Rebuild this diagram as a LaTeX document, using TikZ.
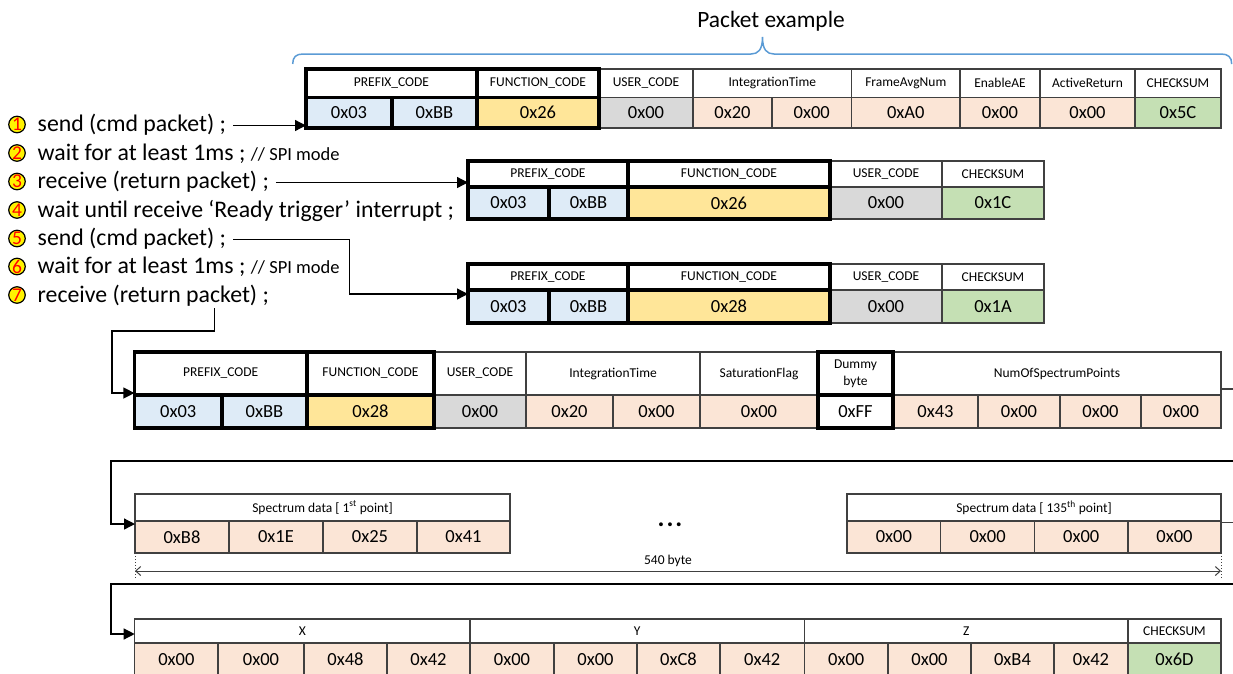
\documentclass[tikz,border=0pt]{standalone}
\usepackage{fontspec}
\setmainfont{Carlito}
\usetikzlibrary{arrows.meta,calc}
\definecolor{cblue}{HTML}{DEEBF7}
\definecolor{cyel}{HTML}{FFE699}
\definecolor{cgray}{HTML}{D9D9D9}
\definecolor{cpeach}{HTML}{FBE5D6}
\definecolor{cgreen}{HTML}{C5E0B4}
\definecolor{cline}{HTML}{404040}
\definecolor{cbrace}{HTML}{5B9BD5}
\newcommand\pcell[7]{\node[#6, minimum width={(#4-#2)*1pt}, minimum height={(#5-#3)*1pt}] (#1) at ({(#2+#4)/2},{(#3+#5)/2}) {#7};}
\begin{document}
\begin{tikzpicture}[x=1pt,y=-1pt,
 every node/.style={inner sep=0pt,outer sep=0pt},
 hdr/.style={draw=cline,line width=1.2pt,fill=white,font=\fontsize{13.5}{16}\selectfont},
 hdrs/.style={draw=cline,line width=1.2pt,fill=white,font=\fontsize{13.5}{16}\selectfont},
 val/.style={draw=cline,line width=1.2pt,font=\fontsize{18.5}{20}\selectfont},
 thk/.style={draw=black,line width=3.3pt},
 stepc/.style={circle,draw=black,line width=1.2pt,fill=yellow,minimum size=16.5pt},
 stepn/.style={text=red,font=\fontsize{19.5}{19.5}\selectfont},
 steptxt/.style={anchor=base west,font=\fontsize{23.8}{27}\selectfont,text height=17pt,text depth=5pt},
 arr/.style={draw=black,line width=1.3pt,-{Triangle[length=11pt,width=11pt]}},
 conn/.style={draw=cline,line width=1.3pt},
 dim/.style={draw=cline,line width=1pt,{Straight Barb[length=5pt,width=9pt]}-{Straight Barb[length=5pt,width=9pt]}},
]
\useasboundingbox (0,0) rectangle (1233,673);
\clip (0,0) rectangle (1233,673);

% title and brace
\node[font=\fontsize{23.4}{26}\selectfont] (pk) at (771,21) {Packet example};
\draw[cbrace,line width=1.5pt] (292.7,64) .. controls (292.7,57) and (296,54) .. (303,54) -- (751,54) .. controls (758,54) and (762.5,50) .. (762.5,37) .. controls (762.5,50) and (767,54) .. (774,54) -- (1221,54) .. controls (1228,54) and (1231.7,57) .. (1231.7,64);

% steps
\node[steptxt] (s1) at (37.7,131.5) {send (cmd packet) ;};
\node[steptxt] (s2) at (37.7,160) {wait for at least 1ms ; {\fontsize{18.5}{20}\selectfont // SPI mode}};
\node[steptxt] (s3) at (37.7,188.5) {receive (return packet) ;};
\node[steptxt] (s4) at (37.7,217) {wait until receive ‘Ready trigger’ interrupt ;};
\node[steptxt] (s5) at (37.7,245.5) {send (cmd packet) ;};
\node[steptxt] (s6) at (37.7,273.5) {wait for at least 1ms ; {\fontsize{18.5}{20}\selectfont // SPI mode}};
\node[steptxt] (s7) at (37.7,302) {receive (return packet) ;};
\foreach \i/\yy in {1/124.5,2/153,3/181.5,4/210,5/238.5,6/266.5,7/295}{
  \node[stepc] (c\i) at (17,\yy) {};
  \node[stepn] (n\i) at (c\i) {\i};
}

% row 1
\pcell{p1uh}{599}{69}{693}{97.5}{hdr}{USER\_CODE}
\pcell{p1u}{599}{97.5}{693}{128}{val,fill=cgray}{0x00}
\pcell{p1ih}{693}{69}{851.5}{97.5}{hdr}{IntegrationTime}
\pcell{p1ia}{693}{97.5}{772}{128}{val,fill=cpeach}{0x20}
\pcell{p1ib}{772}{97.5}{851.5}{128}{val,fill=cpeach}{0x00}
\pcell{p1gh}{851.5}{69}{960}{97.5}{hdr}{FrameAvgNum}
\pcell{p1g}{851.5}{97.5}{960}{128}{val,fill=cpeach}{0xA0}
\pcell{p1eh}{960}{69}{1040}{97.5}{hdr}{EnableAE}
\pcell{p1e}{960}{97.5}{1040}{128}{val,fill=cpeach}{0x00}
\pcell{p1rh}{1040}{69}{1135}{97.5}{hdr}{ActiveReturn}
\pcell{p1r}{1040}{97.5}{1135}{128}{val,fill=cpeach}{0x00}
\pcell{p1ch}{1135}{69}{1221}{97.5}{hdr}{CHECKSUM}
\pcell{p1c}{1135}{97.5}{1221}{128}{val,fill=cgreen}{0x5C}
\pcell{p1h}{306}{69}{477}{97.5}{hdr,thk}{PREFIX\_CODE}
\pcell{p1a}{306}{97.5}{392}{128}{val,thk,fill=cblue}{0x03}
\pcell{p1b}{392}{97.5}{477}{128}{val,thk,fill=cblue}{0xBB}
\pcell{p1fh}{477}{69}{599}{97.5}{hdr,thk}{FUNCTION\_CODE}
\pcell{p1f}{477}{97.5}{599}{128}{val,thk,fill=cyel}{0x26}

% row 2
\pcell{p2uh}{830}{161}{942}{187}{hdr}{USER\_CODE}
\pcell{p2u}{830}{187}{942}{219}{val,fill=cgray}{0x00}
\pcell{p2ch}{942}{161}{1044}{187}{hdr}{CHECKSUM}
\pcell{p2c}{942}{187}{1044}{219}{val,fill=cgreen}{0x1C}
\pcell{p2h}{468}{161}{628}{187}{hdr,thk}{PREFIX\_CODE}
\pcell{p2a}{468}{187}{549}{219}{val,thk,fill=cblue}{0x03}
\pcell{p2b}{549}{187}{628}{219}{val,thk,fill=cblue}{0xBB}
\pcell{p2fh}{628}{161}{830}{187}{hdr,thk}{FUNCTION\_CODE}
\pcell{p2f}{628}{187}{830}{219}{val,thk,fill=cyel}{0x26}

% row 3
\pcell{p3uh}{830}{264}{942}{290}{hdr}{USER\_CODE}
\pcell{p3u}{830}{290}{942}{323}{val,fill=cgray}{0x00}
\pcell{p3ch}{942}{264}{1044}{290}{hdr}{CHECKSUM}
\pcell{p3c}{942}{290}{1044}{323}{val,fill=cgreen}{0x1A}
\pcell{p3h}{468}{264}{628}{290}{hdr,thk}{PREFIX\_CODE}
\pcell{p3a}{468}{290}{549}{323}{val,thk,fill=cblue}{0x03}
\pcell{p3b}{549}{290}{628}{323}{val,thk,fill=cblue}{0xBB}
\pcell{p3fh}{628}{264}{830}{290}{hdr,thk}{FUNCTION\_CODE}
\pcell{p3f}{628}{290}{830}{323}{val,thk,fill=cyel}{0x28}

% row 4
\pcell{p4uh}{434}{352}{526}{395}{hdr}{USER\_CODE}
\pcell{p4u}{434}{395}{526}{428}{val,fill=cgray}{0x00}
\pcell{p4ih}{526}{352}{700}{395}{hdr}{IntegrationTime}
\pcell{p4ia}{526}{395}{613}{428}{val,fill=cpeach}{0x20}
\pcell{p4ib}{613}{395}{700}{428}{val,fill=cpeach}{0x00}
\pcell{p4sh}{700}{352}{818}{395}{hdr}{SaturationFlag}
\pcell{p4s}{700}{395}{818}{428}{val,fill=cpeach}{0x00}
\pcell{p4nh}{893}{352}{1221}{395}{hdr}{NumOfSpectrumPoints}
\pcell{p4na}{893}{395}{978}{428}{val,fill=cpeach}{0x43}
\pcell{p4nb}{978}{395}{1060}{428}{val,fill=cpeach}{0x00}
\pcell{p4nc}{1060}{395}{1141}{428}{val,fill=cpeach}{0x00}
\pcell{p4nd}{1141}{395}{1221}{428}{val,fill=cpeach}{0x00}
\pcell{p4h}{134.4}{352}{307}{395}{hdr,thk}{PREFIX\_CODE}
\pcell{p4a}{134.4}{395}{222}{428}{val,thk,fill=cblue}{0x03}
\pcell{p4b}{222}{395}{307}{428}{val,thk,fill=cblue}{0xBB}
\pcell{p4fh}{307}{352}{434}{395}{hdr,thk}{FUNCTION\_CODE}
\pcell{p4f}{307}{395}{434}{428}{val,thk,fill=cyel}{0x28}
\pcell{p4dh}{818}{352}{893}{395}{hdr,thk,align=center}{Dummy\\[1pt]byte}
\pcell{p4d}{818}{395}{893}{428}{val,thk,fill=white}{0xFF}

% row 5
\pcell{p5h}{135}{494}{510}{521}{hdrs}{Spectrum data [ 1\textsuperscript{st} point]}
\pcell{p5a}{135}{521}{229}{553}{val,fill=cpeach}{0xB8}
\pcell{p5b}{229}{521}{323}{553}{val,fill=cpeach}{0x1E}
\pcell{p5c}{323}{521}{417}{553}{val,fill=cpeach}{0x25}
\pcell{p5d}{417}{521}{510}{553}{val,fill=cpeach}{0x41}
\pcell{p5k}{847}{494}{1221}{521}{hdrs}{Spectrum data [ 135\textsuperscript{th} point]}
\pcell{p5e}{847}{521}{940.7}{553}{val,fill=cpeach}{0x00}
\pcell{p5f}{940.7}{521}{1034.5}{553}{val,fill=cpeach}{0x00}
\pcell{p5g}{1034.5}{521}{1128}{553}{val,fill=cpeach}{0x00}
\pcell{p5i}{1128}{521}{1221}{553}{val,fill=cpeach}{0x00}
\node[font=\fontsize{26}{28}\selectfont\bfseries] (dots) at (670,525) {.\kern2pt.\kern2pt.};
\node[font=\fontsize{13.5}{15}\selectfont] (lb) at (668,561) {540 byte};
\draw[dotted,line width=1pt,cline] (p5a.south west) -- ++(0,25);
\draw[dotted,line width=1pt,cline] (p5i.south east) -- ++(0,25);
\draw[dim] ([yshift=-18pt]p5a.south west) -- ([yshift=-18pt]p5i.south east);

% row 6
\pcell{p6x}{134.7}{619}{470}{643}{hdrs}{X}
\pcell{p6y}{470}{619}{804.5}{643}{hdrs}{Y}
\pcell{p6z}{804.5}{619}{1128}{643}{hdrs}{Z}
\pcell{p6ch}{1128}{619}{1221}{643}{hdrs}{CHECKSUM}
\pcell{p6a}{134.7}{643}{218}{676}{val,fill=cpeach}{0x00}
\pcell{p6b}{218}{643}{304}{676}{val,fill=cpeach}{0x00}
\pcell{p6c}{304}{643}{387}{676}{val,fill=cpeach}{0x48}
\pcell{p6d}{387}{643}{470}{676}{val,fill=cpeach}{0x42}
\pcell{p6e}{470}{643}{554}{676}{val,fill=cpeach}{0x00}
\pcell{p6f}{554}{643}{637}{676}{val,fill=cpeach}{0x00}
\pcell{p6g}{637}{643}{720}{676}{val,fill=cpeach}{0xC8}
\pcell{p6h}{720}{643}{804.5}{676}{val,fill=cpeach}{0x42}
\pcell{p6i}{804.5}{643}{888}{676}{val,fill=cpeach}{0x00}
\pcell{p6j}{888}{643}{971}{676}{val,fill=cpeach}{0x00}
\pcell{p6k}{971}{643}{1054}{676}{val,fill=cpeach}{0xB4}
\pcell{p6l}{1054}{643}{1128}{676}{val,fill=cpeach}{0x42}
\pcell{p6m}{1128}{643}{1221}{676}{val,fill=cgreen}{0x6D}

% connectors
\coordinate (k5) at (349.5,294);
\coordinate (k7a) at (214.7,308);
\coordinate (k7b) at (112,331);
\coordinate (o4) at (1233,389);
\coordinate (i5) at (1233,461);
\coordinate (b5) at (111,461);
\coordinate (o5) at (1233,522.7);
\coordinate (i6) at (1233,584);
\coordinate (b6) at (111,584);
\draw[arr] ([xshift=7pt]s1.east) -- (s1.east -| p1a.west);
\draw[arr] ([xshift=7pt]s3.east) -- (s3.east -| p2h.west);
\draw[arr] ([xshift=7pt]s5.east) -| (k5) -- (k5 -| p3a.west);
\draw[arr] (k7a) |- (k7b) |- ([yshift=2pt]p4a.north west);
\draw[conn] ([yshift=6pt]p4nh.south east) -- (o4);
\draw[arr] (i5) -- (b5) |- ([yshift=-3pt]p5a.north west);
\draw[conn] ([yshift=-1.7pt]p5i.north east) -- (o5);
\draw[arr] (i6) -- (b6) |- ([yshift=9pt]p6a.north west);
\end{tikzpicture}
\end{document}
